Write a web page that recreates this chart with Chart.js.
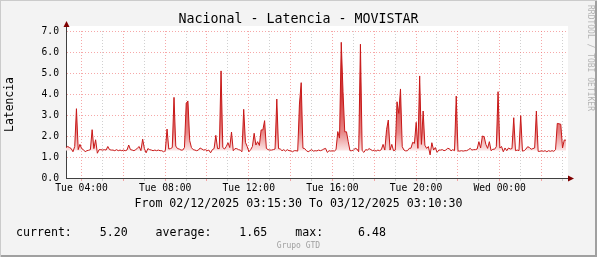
<!DOCTYPE html>
<html>
<head>
<meta charset="utf-8">
<script src="https://cdn.jsdelivr.net/npm/chart.js@4.4.1/dist/chart.umd.min.js"></script>
<style>
  body { margin: 0; background: #f3f3f3; }
  #wrap { position: relative; width: 597px; height: 257px; overflow: hidden; font-family: "DejaVu Sans Mono", monospace; }
  #wrap canvas { position: absolute; left: 0; top: 0; }
  .txt { position: absolute; white-space: pre; color: #000; line-height: 1; }
  #title { left: 0; width: 597px; text-align: center; top: 12px; font-size: 13.3px; }
  #range { left: 0; width: 597px; text-align: center; top: 198px; font-size: 11.6px; }
  #legend { left: 16px; top: 227px; font-size: 11.6px; }
  #footer { left: 0; width: 597px; text-align: center; top: 242px; font-size: 8px; color: #a0a0a0; }
  #mark { right: 3px; top: 5px; font-size: 8px; color: #b4b4b4; writing-mode: vertical-rl; }
  #frame { position: absolute; inset: 0; pointer-events: none;
           box-shadow: inset 1px 1px 0 #cbcbcb, inset -2px -2px 0 #a0a0a0; }
</style>
</head>
<body>
<div id="wrap">
  <canvas id="latChart" width="597" height="257"></canvas>
  <div class="txt" id="title">Nacional - Latencia - MOVISTAR</div>
  <div class="txt" id="range">From 02/12/2025 03:15:30 To 03/12/2025 03:10:30</div>
  <div class="txt" id="legend">current:    5.20    average:    1.65    max:     6.48</div>
  <div class="txt" id="footer">Grupo GTD</div>
  <div class="txt" id="mark">RRDTOOL / TOBI OETIKER</div>
  <div id="frame"></div>
</div>
<script>
// minutes since Tue 00:00
const startMinute = 195.5;   // 03:15:30
const endMinute = 1630.5;    // Wed 03:10:30
const stepMinutes = 5;

const tickMinutes = [240, 480, 720, 960, 1200, 1440];
const tickLabels = ['Tue 04:00', 'Tue 08:00', 'Tue 12:00', 'Tue 16:00', 'Tue 20:00', 'Wed 00:00'];

// latencia, one value every 5 min
const latency = [
  1.45, 1.5, 1.45, 1.4, 1.25, 1.5, 3.3, 1.35, 1.6, 1.4,
  1.35, 1.25, 1.3, 1.32, 1.35, 2.3, 1.4, 1.82, 1.18, 1.35,
  1.35, 1.33, 1.35, 1.33, 1.5, 1.35, 1.33, 1.33, 1.3, 1.35,
  1.3, 1.33, 1.3, 1.33, 1.3, 1.33, 1.57, 1.35, 1.33, 1.3,
  1.35, 1.42, 1.5, 1.3, 1.85, 1.4, 1.2, 1.4, 1.35, 1.33,
  1.3, 1.33, 1.3, 1.33, 1.3, 1.3, 1.25, 1.3, 2.33, 1.38,
  1.4, 1.45, 3.84, 1.52, 1.4, 1.38, 1.33, 1.33, 1.45, 3.56,
  3.67, 1.78, 1.45, 1.35, 1.33, 1.3, 1.33, 1.43, 1.38, 1.33,
  1.35, 1.3, 1.33, 1.2, 1.35, 1.4, 2.03, 1.4, 1.4, 5.1,
  1.45, 1.38, 1.5, 1.68, 1.45, 2.19, 1.3, 1.4, 1.4, 1.35,
  1.33, 1.25, 3.27, 1.7, 1.5, 1.25, 1.35, 1.5, 2.13, 1.57,
  1.73, 1.55, 2.29, 2.29, 2.73, 1.41, 1.35, 1.33, 1.33, 1.35,
  1.38, 3.76, 1.4, 1.38, 1.3, 1.35, 1.28, 1.35, 1.3, 1.3,
  1.25, 1.3, 1.3, 1.28, 3.52, 4.54, 1.42, 1.4, 1.3, 1.25,
  1.3, 1.35, 1.28, 1.3, 1.29, 1.33, 1.3, 1.33, 1.38, 1.41,
  1.22, 1.3, 1.28, 1.3, 1.28, 1.35, 2.21, 1.9, 6.46, 4.11,
  2.2, 2.2, 1.73, 1.3, 1.3, 1.33, 1.41, 1.38, 1.25, 6.37,
  1.3, 1.22, 1.35, 1.33, 1.4, 1.35, 1.3, 1.33, 1.28, 1.33,
  1.3, 1.35, 1.6, 1.33, 2.3, 2.76, 1.33, 1.6, 1.3, 1.33,
  3.63, 3.08, 4.24, 1.49, 1.33, 1.29, 1.3, 1.41, 1.42, 1.7,
  1.65, 2.65, 1.41, 4.86, 1.6, 3.19, 1.56, 1.41, 1.5, 1.1,
  1.68, 1.33, 1.45, 1.22, 1.33, 1.33, 1.35, 1.3, 1.33, 1.41,
  1.4, 1.29, 1.35, 1.3, 3.9, 1.29, 1.28, 1.3, 1.28, 1.3,
  1.3, 1.35, 1.41, 1.33, 1.35, 1.35, 1.38, 1.73, 1.43, 2.0,
  1.97, 1.6, 1.41, 1.73, 1.3, 1.37, 1.37, 1.49, 4.11, 1.43,
  1.5, 1.25, 1.43, 1.3, 1.43, 1.38, 1.4, 2.87, 1.3, 1.33,
  1.3, 2.97, 1.28, 1.3, 1.38, 1.49, 1.45, 1.37, 1.4, 1.43,
  3.19, 1.27, 1.27, 1.3, 1.27, 1.3, 1.25, 1.3, 1.27, 1.3,
  1.27, 1.35, 2.6, 2.58, 2.56, 1.43, 1.81, 1.8
];

const points = latency.map((v, i) => ({ x: startMinute + i * stepMinutes, y: v }));

const mono = "'DejaVu Sans Mono', monospace";
const majorGrid = 'rgba(240, 110, 110, 0.6)';
const minorGrid = 'rgba(150, 150, 150, 0.45)';

// white canvas behind the plot + axis arrows like rrdtool
const rrdFrame = {
  id: 'rrdFrame',
  beforeDraw(chart) {
    const { ctx, chartArea: a } = chart;
    ctx.save();
    ctx.fillStyle = '#ffffff';
    ctx.fillRect(a.left, a.top - 5, a.right - a.left + 2, a.bottom - a.top + 5);
    ctx.restore();
  },
  afterDraw(chart) {
    const { ctx, chartArea: a } = chart;
    ctx.save();
    ctx.strokeStyle = '#404040';
    ctx.lineWidth = 1;
    ctx.beginPath();
    ctx.moveTo(a.left + 0.5, a.top);
    ctx.lineTo(a.left + 0.5, a.top - 5);
    ctx.moveTo(a.right, a.bottom + 0.5);
    ctx.lineTo(a.right + 3, a.bottom + 0.5);
    ctx.stroke();
    ctx.fillStyle = '#7f0000';
    ctx.beginPath();
    ctx.moveTo(a.left + 0.5, a.top - 10);
    ctx.lineTo(a.left - 2.5, a.top - 4);
    ctx.lineTo(a.left + 3.5, a.top - 4);
    ctx.closePath();
    ctx.fill();
    ctx.beginPath();
    ctx.moveTo(a.right + 8, a.bottom + 0.5);
    ctx.lineTo(a.right + 2, a.bottom - 2.5);
    ctx.lineTo(a.right + 2, a.bottom + 3.5);
    ctx.closePath();
    ctx.fill();
    ctx.restore();
  }
};

new Chart(document.getElementById('latChart'), {
  type: 'line',
  data: {
    datasets: [{
      label: 'Latencia',
      data: points,
      borderColor: '#c81818',
      borderWidth: 1,
      pointRadius: 0,
      tension: 0,
      fill: { target: { value: 1.3 }, below: 'rgba(0,0,0,0)' },
      backgroundColor(context) {
        const { chart } = context;
        const { ctx, chartArea, scales } = chart;
        if (!chartArea || !scales.y) return 'rgba(200,24,24,0.5)';
        const yTop = scales.y.getPixelForValue(7);
        const yBase = scales.y.getPixelForValue(1.3);
        const g = ctx.createLinearGradient(0, yTop, 0, yBase);
        g.addColorStop(0, '#c42020');
        g.addColorStop(0.55, '#d43c3c');
        g.addColorStop(0.85, '#e88a8a');
        g.addColorStop(1, '#fbe6e6');
        return g;
      }
    }]
  },
  options: {
    responsive: false,
    animation: false,
    layout: { padding: { left: 0, top: 31, right: 31, bottom: 0 } },
    plugins: { legend: { display: false }, tooltip: { enabled: false } },
    scales: {
      x: {
        type: 'linear',
        min: startMinute,
        max: endMinute,
        afterFit(scale) { scale.height = 79; },
        ticks: {
          stepSize: 60,
          includeBounds: false,
          autoSkip: false,
          maxRotation: 0,
          padding: 2,
          color: '#000',
          font: { family: mono, size: 9.7 },
          callback(v) {
            const k = tickMinutes.indexOf(v);
            return k >= 0 ? tickLabels[k] : '';
          }
        },
        grid: {
          tickLength: 3,
          color(ctx) { return ctx.tick && ctx.tick.value % 120 === 0 ? majorGrid : minorGrid; }
        },
        border: { display: true, color: '#404040', width: 1, dash: [1, 2] }
      },
      y: {
        min: 0,
        max: 7,
        afterFit(scale) { scale.width = 66; },
        title: {
          display: true,
          text: 'Latencia',
          color: '#000',
          font: { family: mono, size: 11.4 },
          padding: { top: 3, bottom: 0 }
        },
        ticks: {
          stepSize: 0.5,
          padding: 7,
          color: '#000',
          font: { family: mono, size: 9.7 },
          callback(v) { return Number.isInteger(v) ? v.toFixed(1) : ''; }
        },
        grid: {
          drawTicks: false,
          color(ctx) { return ctx.tick && Number.isInteger(ctx.tick.value) ? majorGrid : minorGrid; }
        },
        border: { display: true, color: '#404040', width: 1, dash: [1, 2] }
      }
    }
  },
  plugins: [rrdFrame]
});
</script>
</body>
</html>
